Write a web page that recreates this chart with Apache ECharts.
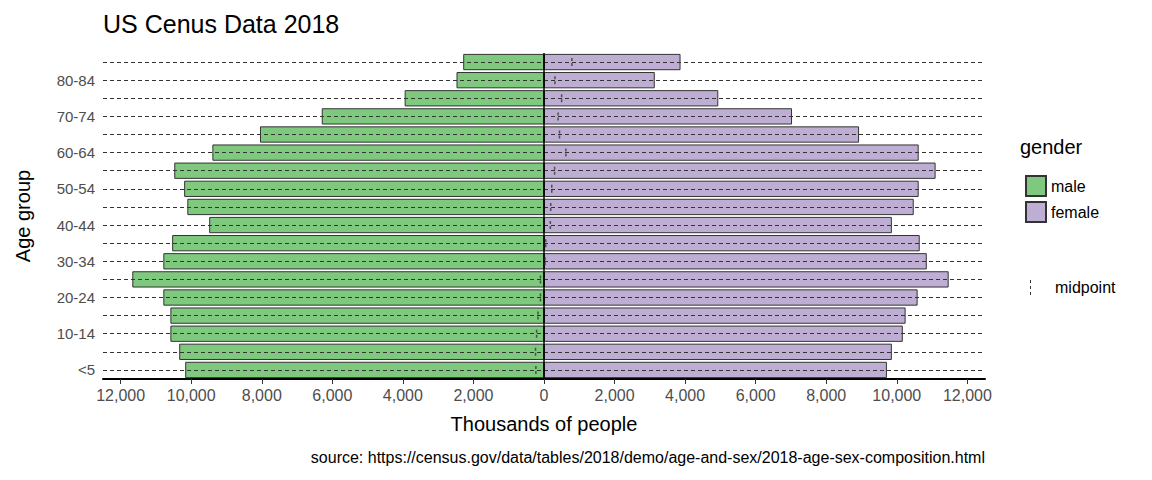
<!DOCTYPE html>
<html><head><meta charset="utf-8">
<script src="https://cdn.jsdelivr.net/npm/echarts@6/dist/echarts.min.js"></script>
<style>html,body{margin:0;background:#fff}#c{width:1152px;height:480px}</style>
</head><body><div id="c"></div>
<script>
// data (thousands of people)
const ageGroups = ['<5','5-9','10-14','15-19','20-24','25-29','30-34','35-39','40-44','45-49','50-54','55-59','60-64','65-69','70-74','75-79','80-84','85+'];
const male = [10170, 10340, 10590, 10590, 10790, 11670, 10790, 10540, 9490, 10110, 10200, 10480, 9400, 8050, 6300, 3950, 2480, 2290];
const female = [9720, 9860, 10170, 10250, 10590, 11470, 10850, 10650, 9860, 10480, 10620, 11100, 10620, 8930, 7030, 4940, 3140, 3870];
const midpoint = [-230, -240, -210, -170, -100, -100, 30, 50, 180, 190, 220, 300, 620, 440, 400, 500, 310, 790];
const xTicks = [-12000, -10000, -8000, -6000, -4000, -2000, 0, 2000, 4000, 6000, 8000, 10000, 12000];

const chart = echarts.init(document.getElementById('c'), null, { renderer: 'svg' });
const font = 'Liberation Sans, Arial, sans-serif';
const fmt = v => Math.abs(v).toLocaleString('en-US');

chart.setOption({
    animation: false,
    textStyle: { fontFamily: font },
    title: { text: 'US Cenus Data 2018', left: 98, top: 6, textStyle: { fontSize: 25, fontWeight: 'normal', color: '#000', fontFamily: font } },
    grid: { left: 103, right: 167, top: 53, bottom: 101 },
    legend: {
        data: ['male', 'female'], orient: 'vertical', left: 1020, top: 170,
        itemWidth: 20, itemHeight: 20, itemGap: 4, icon: 'rect',
        textStyle: { fontSize: 16, color: '#000', fontFamily: font }
    },
    xAxis: {
        type: 'value', min: -12500, max: 12500,
        name: 'Thousands of people', nameLocation: 'middle', nameGap: 35,
        nameTextStyle: { fontSize: 20, color: '#000' },
        axisLine: { show: true, lineStyle: { color: '#000', width: 2 } },
        axisTick: { show: true, length: 5, lineStyle: { color: '#333' }, customValues: xTicks },
        axisLabel: { fontSize: 16, color: '#4d4d4d', formatter: fmt, customValues: xTicks },
        splitLine: { show: false }
    },
    yAxis: {
        type: 'category', data: ageGroups,
        name: 'Age group', nameLocation: 'middle', nameGap: 70, nameRotate: 90,
        nameTextStyle: { fontSize: 20, color: '#000' },
        axisLine: { show: false }, axisTick: { show: false },
        axisLabel: { fontSize: 15, color: '#4d4d4d', margin: 8 },
        splitLine: { show: false }
    },
    series: [
        {
            name: 'grid', type: 'line', data: [], silent: true,
            markLine: {
                symbol: 'none', silent: true, label: { show: false },
                lineStyle: { color: '#333', type: [4, 3], width: 1 },
                data: ageGroups.map(a => ({ yAxis: a }))
            }
        },
        {
            name: 'male', type: 'bar', stack: 'p', barWidth: '90%',
            data: male.map(v => -v),
            itemStyle: { color: '#7fc97f', borderColor: '#333', borderWidth: 1 }
        },
        {
            name: 'female', type: 'bar', stack: 'p', barWidth: '90%',
            data: female,
            itemStyle: { color: '#beaed4', borderColor: '#333', borderWidth: 1 },
            markLine: {
                symbol: 'none', silent: true, label: { show: false },
                lineStyle: { color: '#000', type: 'solid', width: 1.5 },
                data: [{ xAxis: 0 }]
            }
        },
        {
            name: 'midpoint', type: 'scatter', z: 5,
            data: midpoint.map((v, i) => [v, ageGroups[i]]),
            symbol: 'path://M0,0h1v3h-1zM0,5h1v3h-1z', symbolSize: [1.5, 8],
            itemStyle: { color: '#333' }
        }
    ],
    graphic: [
        { type: 'text', left: 1020, top: 137, style: { text: 'gender', fontSize: 20, fill: '#000', fontFamily: font } },
        { type: 'rect', shape: { x: 1030, y: 280, width: 1, height: 3 }, style: { fill: '#333' } },
        { type: 'rect', shape: { x: 1030, y: 286, width: 1, height: 3 }, style: { fill: '#333' } },
        { type: 'rect', shape: { x: 1030, y: 292, width: 1, height: 3 }, style: { fill: '#333' } },
        { type: 'text', left: 1055, top: 279, style: { text: 'midpoint', fontSize: 16, fill: '#000', fontFamily: font } },
        { type: 'text', right: 167, top: 449, style: { text: 'source: https://census.gov/data/tables/2018/demo/age-and-sex/2018-age-sex-composition.html', fontSize: 16, fill: '#000', fontFamily: font } }
    ]
});
</script></body></html>
